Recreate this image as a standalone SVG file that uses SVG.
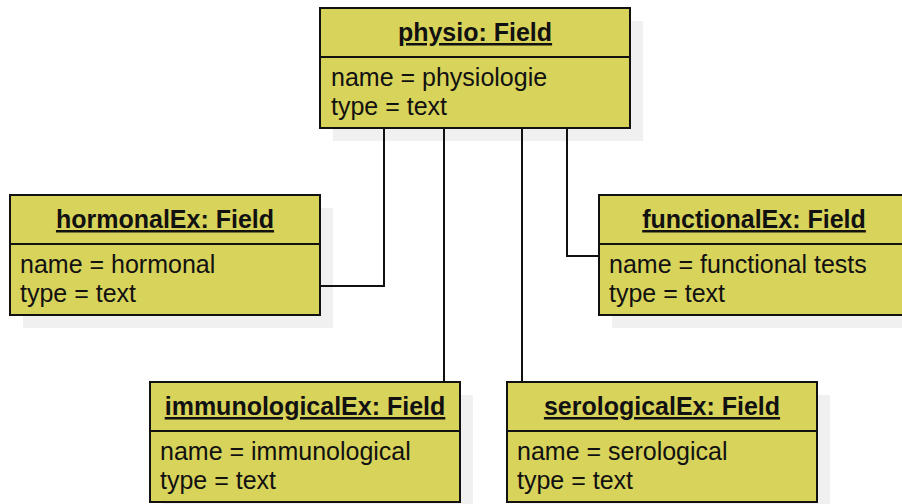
<svg xmlns="http://www.w3.org/2000/svg" width="902" height="504" viewBox="0 0 902 504">
<style>
.sh{fill:#f0f0f0}
.box{fill:#d8d35a;stroke:#111;stroke-width:2}
.div{stroke:#111;stroke-width:2}
.t{font-family:"Liberation Sans",Arial,sans-serif;font-size:25px;font-weight:bold;fill:#111;text-anchor:middle;text-decoration:underline}
.a{font-family:"Liberation Sans",Arial,sans-serif;font-size:25px;fill:#111}
.c{fill:none;stroke:#111;stroke-width:2}
</style>
<rect width="902" height="504" fill="#fff"/>
<g id="physio">
<rect class="sh" x="333" y="21" width="310" height="120"/>
<rect class="box" x="320" y="8" width="310" height="120"/>
<line class="div" x1="320" y1="57" x2="630" y2="57"/>
<text class="t" x="475" y="41">physio: Field</text>
<text class="a" x="331" y="86">name = physiologie</text>
<text class="a" x="331" y="115">type = text</text>
</g>
<g id="hormonalEx">
<rect class="sh" x="23" y="208" width="310" height="120"/>
<rect class="box" x="10" y="195" width="310" height="120"/>
<line class="div" x1="10" y1="244" x2="320" y2="244"/>
<text class="t" x="165" y="228">hormonalEx: Field</text>
<text class="a" x="20" y="273">name = hormonal</text>
<text class="a" x="20" y="302">type = text</text>
</g>
<g id="functionalEx">
<rect class="sh" x="612" y="208" width="310" height="120"/>
<rect class="box" x="599" y="195" width="310" height="120"/>
<line class="div" x1="599" y1="244" x2="909" y2="244"/>
<text class="t" x="754" y="228">functionalEx: Field</text>
<text class="a" x="609" y="273">name = functional tests</text>
<text class="a" x="609" y="302">type = text</text>
</g>
<g id="immunologicalEx">
<rect class="sh" x="163" y="395" width="310" height="120"/>
<rect class="box" x="150" y="382" width="310" height="120"/>
<line class="div" x1="150" y1="431" x2="460" y2="431"/>
<text class="t" x="305" y="415">immunologicalEx: Field</text>
<text class="a" x="160" y="460">name = immunological</text>
<text class="a" x="160" y="489">type = text</text>
</g>
<g id="serologicalEx">
<rect class="sh" x="520" y="395" width="310" height="120"/>
<rect class="box" x="507" y="382" width="310" height="120"/>
<line class="div" x1="507" y1="431" x2="817" y2="431"/>
<text class="t" x="662" y="415">serologicalEx: Field</text>
<text class="a" x="517" y="460">name = serological</text>
<text class="a" x="517" y="489">type = text</text>
</g>
<g id="connectors">
<polyline class="c" points="384,129 384,286 321,286"/>
<line class="c" x1="444" y1="129" x2="444" y2="381"/>
<line class="c" x1="522" y1="129" x2="522" y2="381"/>
<polyline class="c" points="567,129 567,256 598,256"/>
</g>
</svg>
